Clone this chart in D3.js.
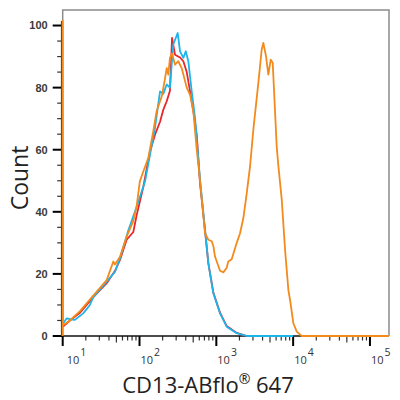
<!DOCTYPE html>
<html><head><meta charset="utf-8">
<script src="https://cdn.jsdelivr.net/npm/d3@7"></script>
<style>body{margin:0;background:#fff}</style>
</head><body>
<svg id="c" width="400" height="400"></svg>
<script>
// ---- data (intensity, count) ----
const redIntensity = [10.1, 12.4, 16.8, 25, 30.6, 37.4, 48, 55.7, 68, 83, 92, 112, 137, 160, 185, 205, 226, 249, 265, 290, 337, 372, 412, 455, 502, 556, 614, 713, 787, 914, 1117, 1364, 1844, 2490, 10000];
const redCount     = [3, 5, 7.5, 12.5, 14.8, 17, 21, 24.5, 31, 33.5, 39, 48, 59.5, 65, 69, 73, 75.6, 79, 96, 90.6, 89.7, 88.5, 85, 78.8, 72.4, 64.8, 49, 34, 23.5, 14, 7.5, 3.2, 1, 0, 0];

const cyanIntensity = [10.1, 11.3, 12.4, 14.4, 18.5, 22.6, 25, 30.6, 37.4, 48, 55.7, 71.4, 92, 118, 159, 185, 204, 226, 249, 275, 314, 337, 372, 400, 432, 478, 528, 614, 713, 787, 914, 1117, 1364, 1844, 2490, 10000];
const cyanCount     = [4, 5.7, 5.4, 5.2, 7.3, 10, 12.5, 15, 17.5, 20.7, 25, 34, 41.7, 49.8, 67, 78.8, 78, 81, 80, 93.9, 97.6, 91.7, 89.6, 91.7, 88.5, 78.8, 70.3, 50.3, 34.2, 23.4, 13.8, 7.3, 3, 0.9, 0, 0];

const orangeIntensity = [10, 10, 10.1, 12.4, 16.8, 20.5, 25, 30.6, 37.4, 45.6, 48, 55.7, 68, 83, 92, 101, 112, 130, 151, 167, 195, 215, 226, 237, 249, 265, 290, 320, 354, 412, 455, 502, 556, 614, 713, 787, 871, 914, 961, 1117, 1240, 1364, 1432, 1585, 1844, 2036, 2249, 2490, 2748, 3034, 3525, 3899, 4093, 4437, 4753, 5108, 5420, 5688, 6111, 6412, 7110, 7852, 8670, 9120, 10070, 11140, 12940, 177000];
const orangeCount     = [0, 101.6, 3.5, 5, 8, 10.5, 13, 15.5, 18, 24, 23, 25.5, 32, 37, 42, 49.8, 53, 57.3, 65.9, 72.4, 77.2, 83, 86.3, 84.2, 89.6, 91, 87.4, 88.5, 86.3, 80, 77.7, 72.4, 60, 50, 33, 31, 30.5, 29, 25.6, 21, 20.5, 22, 24, 24.7, 30, 33.1, 38, 46, 54.6, 66.5, 81.5, 92.3, 94.4, 90.1, 84.2, 89, 88, 77.2, 61, 55, 43.9, 27.7, 14.8, 11.6, 4.1, 1.4, 0, 0];

const yTickValues = [0, 20, 40, 60, 80, 100];
const xTickExponents = [1, 2, 3, 4, 5];
const xTitle = "CD13-ABflo";
const yTitle = "Count";

// ---- chart ----
const svg = d3.select("#c");
const L = 62.7, R = 389, T = 10, B = 336;
const x = d3.scaleLog().domain([10, 177000]).range([L, R]);
const y = d3.scaleLinear().domain([0, 105]).range([B, T]);

// frame
svg.append("path").attr("d", `M${L},${B}V${T}H${R}V${B}`)
  .attr("fill", "none").attr("stroke", "#8c8c8c").attr("stroke-width", 1.5);

// y minor/major ticks
const yMinor = d3.range(0, 105, 5);
svg.append("g").selectAll("line").data(yMinor).join("line")
  .attr("x1", d => d % 20 === 0 ? L - 10 : L - 5.5).attr("x2", L)
  .attr("y1", d => y(d)).attr("y2", d => y(d))
  .attr("stroke", d => d % 20 === 0 ? "#000" : "#333")
  .attr("stroke-width", d => d % 20 === 0 ? 2 : 1.2);
svg.append("g").selectAll("text").data(yTickValues).join("text")
  .attr("x", L - 15).attr("y", d => y(d)).attr("dy", "0.36em")
  .attr("text-anchor", "end").attr("font-family", "Liberation Sans, Arial, sans-serif")
  .attr("font-size", 11).attr("font-weight", "bold").attr("fill", "#3a3a3a").text(d => d);

// x ticks
const xMinor = [];
for (let e = 1; e < 6; e++) for (let m = 1; m < 10; m++) {
  const v = m * Math.pow(10, e);
  if (v >= 10 && v <= 177000) xMinor.push({v, m});
}
svg.append("g").selectAll("line").data(xMinor).join("line")
  .attr("x1", d => x(d.v)).attr("x2", d => x(d.v))
  .attr("y1", B).attr("y2", d => d.m === 1 ? B + 10 : d.m === 5 ? B + 6.5 : B + 4.5)
  .attr("stroke", d => d.m === 1 ? "#000" : "#333")
  .attr("stroke-width", d => d.m === 1 ? 2 : 1.2);

// axis lines
svg.append("line").attr("x1", L).attr("x2", R).attr("y1", B).attr("y2", B)
  .attr("stroke", "#111").attr("stroke-width", 1.6);
svg.append("line").attr("x1", L - 0.8).attr("x2", L - 0.8).attr("y1", T + 11).attr("y2", B)
  .attr("stroke", "#5a3a1a").attr("stroke-width", 2);

const xl = svg.append("g").selectAll("text").data(xTickExponents).join("text")
  .attr("x", d => x(Math.pow(10, d)) + (d === 1 ? 4 : 1)).attr("y", 364)
  .attr("font-family", "Open Sans, sans-serif").attr("font-size", 11).attr("fill", "#333");
xl.append("tspan").text("10");
xl.append("tspan").attr("dx", 1).attr("dy", -8).attr("font-size", 10.5).text(d => d);

// series
function series(xs, ys, color) {
  const pts = xs.map((v, i) => [v, ys[i]]);
  svg.append("path").datum(pts).attr("d", d3.line().x(d => x(d[0])).y(d => y(d[1])).curve(d3.curveLinear))
    .attr("fill", "none").attr("stroke", color).attr("stroke-width", 1.8)
    .attr("stroke-linejoin", "round");
}
series(redIntensity, redCount, "#e8262b");
series(cyanIntensity, cyanCount, "#1bb5ea");
series(orangeIntensity, orangeCount, "#f28a1c");

// titles
const t = svg.append("text").attr("x", 208).attr("y", 393).attr("text-anchor", "middle")
  .attr("font-family", "Open Sans, sans-serif").attr("font-size", 22).attr("fill", "#222");
t.append("tspan").text(xTitle);
t.append("tspan").attr("font-size", 14).attr("dy", -9).text("®");
t.append("tspan").attr("dy", 9).text(" 647");

svg.append("text").attr("transform", "translate(28,178) rotate(-90)")
  .attr("text-anchor", "middle").attr("font-family", "Open Sans, sans-serif")
  .attr("font-size", 23).attr("fill", "#222").text(yTitle);
</script>
</body></html>
